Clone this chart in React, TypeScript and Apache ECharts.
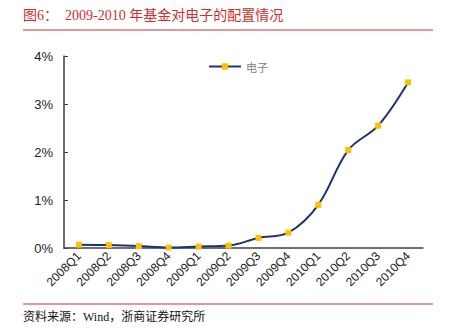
import React, { useEffect, useRef } from "react";
import * as echarts from "echarts";

const categories = ["2008Q1","2008Q2","2008Q3","2008Q4","2009Q1","2009Q2","2009Q3","2009Q4","2010Q1","2010Q2","2010Q3","2010Q4"];
const electronics = [0.07, 0.06, 0.04, 0.01, 0.03, 0.05, 0.21, 0.32, 0.9, 2.04, 2.55, 3.45];
const yTicks = [0, 1, 2, 3, 4];
const titleText = "图6：  2009-2010 年基金对电子的配置情况";
const sourceText = "资料来源：Wind，浙商证券研究所";
const seriesName = "电子";

export default function App() {
  const ref = useRef<HTMLDivElement>(null);
  useEffect(() => {
    const chart = echarts.init(ref.current!, null, { renderer: "svg" });
    const red = "#cc2f2f";
    chart.setOption({
      animation: false,
      backgroundColor: "#ffffff",
      grid: { left: 64, right: 31, top: 56, bottom: 82 },
      legend: {
        data: [seriesName],
        left: 203,
        top: 56,
        itemWidth: 32,
        itemHeight: 8,
        itemGap: 4,
        textStyle: { color: "#808080", fontSize: 11, fontFamily: "Noto Sans CJK SC" },
      },
      xAxis: {
        type: "category",
        data: categories,
        boundaryGap: true,
        axisLine: { lineStyle: { color: "#404040", width: 1.5 } },
        axisTick: { inside: true, length: 4, lineStyle: { color: "#404040" } },
        axisLabel: { rotate: 45, color: "#222", fontSize: 12, fontFamily: "Liberation Sans", margin: 6 },
      },
      yAxis: {
        type: "value",
        min: yTicks[0],
        max: yTicks[yTicks.length - 1],
        interval: 1,
        splitLine: { show: false },
        axisLine: { show: true, lineStyle: { color: "#404040", width: 1.5 } },
        axisTick: { show: true, inside: true, length: 4, lineStyle: { color: "#404040" } },
        axisLabel: { formatter: "{value}%", color: "#222", fontSize: 13, fontFamily: "Liberation Sans", margin: 11 },
      },
      series: [
        {
          name: seriesName,
          type: "line",
          data: electronics,
          smooth: 0.35,
          symbol: "rect",
          symbolSize: 6,
          lineStyle: { color: "#1c3470", width: 2 },
          itemStyle: { color: "#ffc000", borderWidth: 0 },
        },
      ],
      graphic: [
        {
          type: "text",
          left: 23,
          top: 8,
          style: { text: titleText, fill: red, font: "14px 'Liberation Serif', 'Noto Sans CJK SC'" },
        },
        {
          type: "line",
          shape: { x1: 23, y1: 30, x2: 433, y2: 30 },
          style: { stroke: red, lineWidth: 1 },
        },
        {
          type: "line",
          shape: { x1: 23, y1: 304, x2: 433, y2: 304 },
          style: { stroke: red, lineWidth: 1 },
        },
        {
          type: "text",
          left: 23,
          top: 311,
          style: { text: sourceText, fill: "#111", font: "12px 'Liberation Serif', 'Noto Sans CJK SC'" },
        },
      ],
    });
    return () => chart.dispose();
  }, []);
  return <div ref={ref} style={{ position: "fixed", left: 0, top: 0, width: 454, height: 330 }} />;
}
